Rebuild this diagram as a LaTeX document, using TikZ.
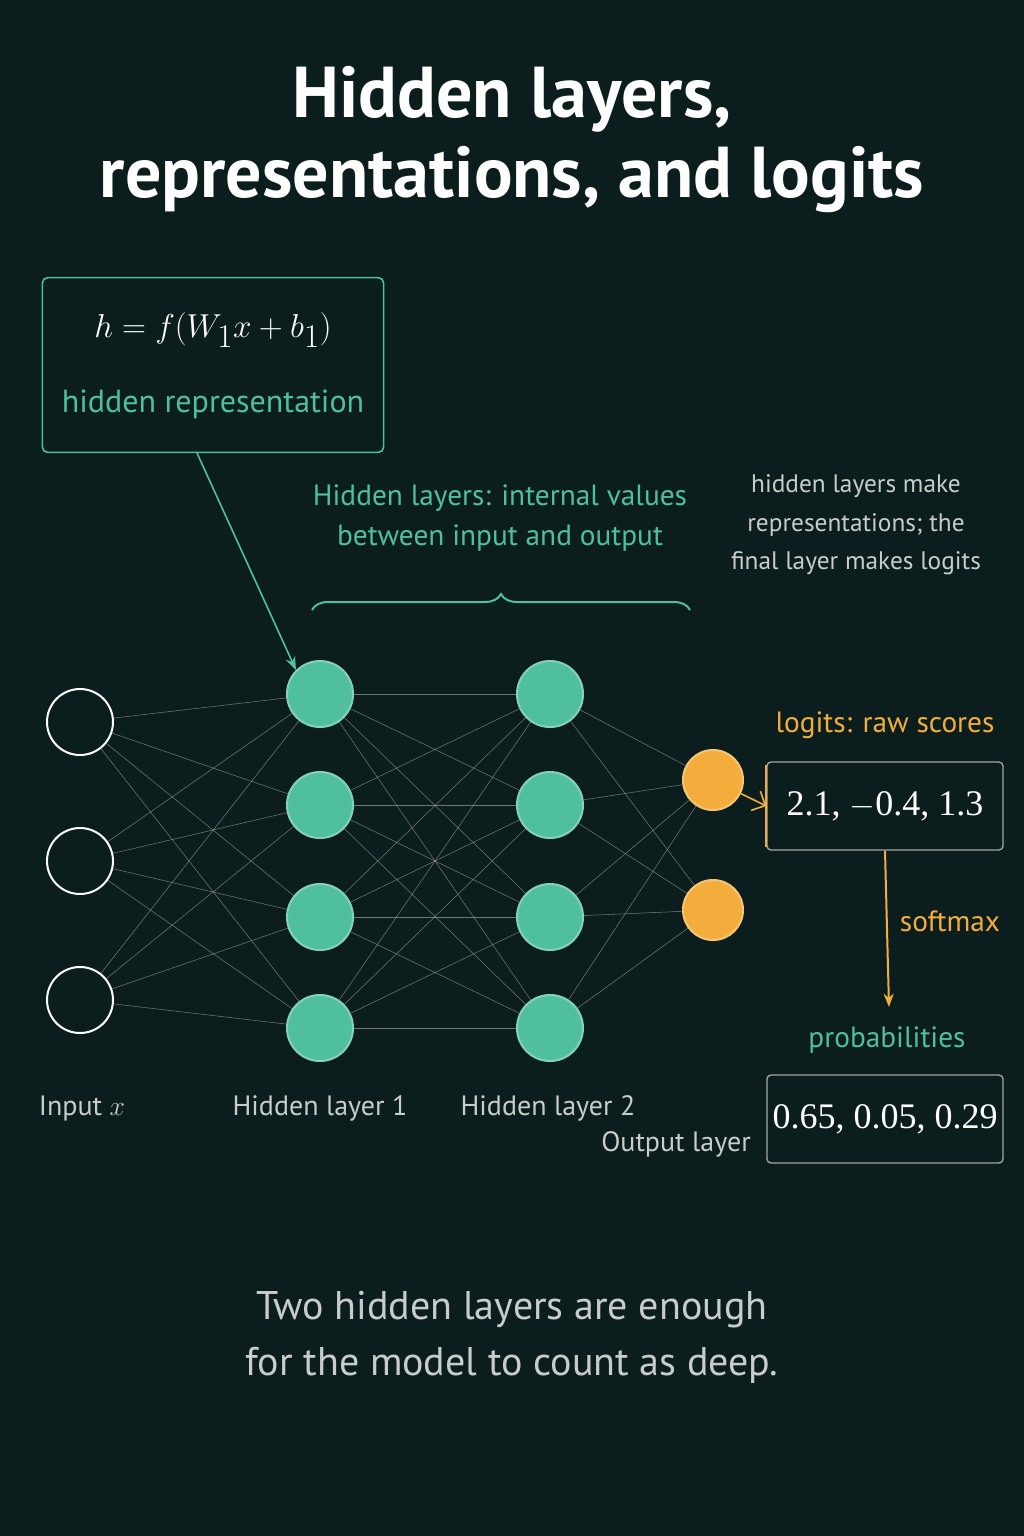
\documentclass[tikz,border=0pt]{standalone}
\usepackage{fontspec}
\setmainfont{PT Sans}
\newfontfamily\numfont{Liberation Serif}
\usetikzlibrary{decorations.pathreplacing,arrows.meta,backgrounds}
\definecolor{bgdark}{HTML}{0B1E1D}
\definecolor{tealn}{HTML}{4FBFA0}
\definecolor{orangen}{HTML}{F2AD3C}
\definecolor{greytext}{HTML}{C8CCCA}
\tikzset{
  neuron/.style={circle, minimum size=49.5pt, inner sep=0pt, draw=white, line width=1.5pt},
  hid/.style={neuron, fill=tealn, draw=tealn!70!white},
  outn/.style={neuron, minimum size=45pt, fill=orangen, draw=orangen!70!white},
  inp/.style={neuron, fill=bgdark},
  wire/.style={draw=gray!60, line width=0.4pt, opacity=0.6},
  valbox/.style={draw=gray!70, rounded corners=3pt, line width=1pt, minimum width=177pt, minimum height=66pt, text=white, font=\numfont\fontsize{27}{30}\selectfont},
  lbl/.style={text=greytext, font=\fontsize{21}{24}\selectfont}
}
\begin{document}
\begin{tikzpicture}[x=0.75pt,y=-0.75pt]
\useasboundingbox (0,0) rectangle (1024,1536);
% title
\node[text=white, font=\bfseries\fontsize{54}{60}\selectfont, align=center] (title) at (512,140) {Hidden layers,\\representations, and logits};
% neurons
\foreach \i/\y in {1/722,2/861,3/1000} \node[inp] (in\i) at (80,\y) {};
\foreach \i/\y in {1/694,2/805,3/917,4/1028} {
  \node[hid] (ha\i) at (320,\y) {};
  \node[hid] (hb\i) at (550,\y) {};
}
\node[outn] (o1) at (713,780) {};
\node[outn] (o2) at (713,910) {};
% wires
\begin{scope}[on background layer]
\fill[bgdark] (0,0) rectangle (1024,1536);
\foreach \i in {1,2,3} \foreach \j in {1,2,3,4} \draw[wire] (in\i) -- (ha\j);
\foreach \i in {1,2,3,4} \foreach \j in {1,2,3,4} \draw[wire] (ha\i) -- (hb\j);
\foreach \i in {1,2,3,4} \foreach \j in {1,2} \draw[wire] (hb\i) -- (o\j);
\end{scope}
% formula box
\node[draw=tealn, rounded corners=4pt, line width=1.2pt, minimum width=256pt, minimum height=131pt] (fbox) at (213,365) {};
\node[text=white, font=\numfont\fontsize{33}{36}\selectfont] (formula) at (213,330) {$h = f(W_1 x + b_1)$};
\node[text=tealn, font=\fontsize{24}{28}\selectfont] (hrep) at (213,404) {hidden representation};
\coordinate (fstart) at (197,453);
\draw[tealn, line width=1.2pt, -{Stealth[length=10pt]}] (fstart) -- (ha1.north west);
% brace
\draw[tealn, line width=1.5pt, decorate, decoration={brace, amplitude=12pt}] (312,610) -- (690,610);
\node[text=tealn, font=\fontsize{22}{30}\selectfont, align=center] (hidnote) at (500,518) {Hidden layers: internal values\\between input and output};
\node[lbl, align=center, font=\fontsize{19}{29}\selectfont] (rnote) at (856,525) {hidden layers make\\representations; the\\final layer makes logits};
% logits
\node[text=orangen, font=\fontsize{22}{26}\selectfont] (logitlbl) at (885,725) {logits: raw scores};
\node[valbox] (logits) at (885,806) {2.1, $-$0.4, 1.3};
\draw[orangen, line width=1.5pt] ([yshift=-3pt]logits.north west) -- ([yshift=3pt]logits.south west);
\draw[orangen, line width=1.2pt, -{Straight Barb[length=8pt]}] (o1) -- (logits.west);
\coordinate (probtop) at (889,1007);
\draw[orangen, line width=1.5pt, -{Stealth[length=10pt]}] (logits.south) -- (probtop);
\node[text=orangen, font=\fontsize{22}{26}\selectfont] (softlbl) at (950,921) {softmax};
\node[text=tealn, font=\fontsize{22}{26}\selectfont] (problbl) at (887,1040) {probabilities};
\node[valbox] (probs) at (885,1119) {0.65, 0.05, 0.29};
% layer labels
\node[lbl] (lin) at (82,1108) {Input $x$};
\node[lbl] (lh1) at (320,1108) {Hidden layer 1};
\node[lbl] (lh2) at (548,1108) {Hidden layer 2};
\node[lbl] (lout) at (676,1144) {Output layer};
% caption
\node[text=greytext, font=\fontsize{30}{42}\selectfont, align=center] (caption) at (512,1337) {Two hidden layers are enough\\for the model to count as deep.};
\end{tikzpicture}
\end{document}
